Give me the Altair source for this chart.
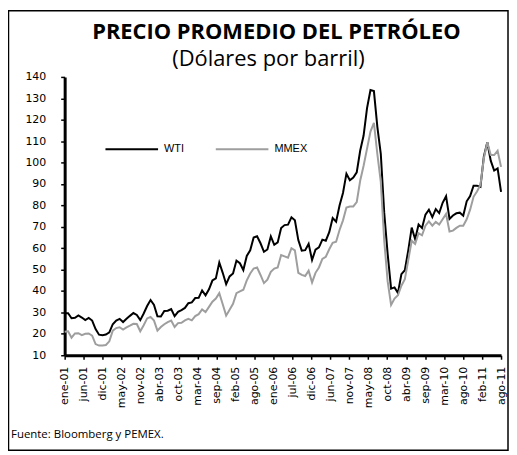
import altair as alt
import pandas as pd

# Monthly averages, USD per barrel (ene-2001 .. ago-2011)
wti_2001 = [29.6, 29.6, 27.3, 27.5, 28.6, 27.6, 26.4, 27.4, 26.2, 22.2, 19.6, 19.4]
wti_2002 = [19.7, 20.7, 24.5, 26.2, 27.0, 25.5, 27.0, 28.4, 29.7, 28.8, 26.4, 29.5]
wti_2003 = [33.0, 35.8, 33.5, 28.2, 28.1, 30.7, 30.8, 31.6, 28.3, 30.3, 31.1, 32.1]
wti_2004 = [34.3, 34.7, 36.7, 36.8, 40.3, 38.0, 40.8, 44.9, 45.9, 53.3, 48.5, 43.2]
wti_2005 = [46.8, 48.2, 54.2, 53.0, 49.8, 56.4, 59.0, 65.0, 65.6, 62.3, 58.3, 59.4]
wti_2006 = [65.5, 61.6, 62.7, 69.4, 70.8, 71.0, 74.4, 73.0, 63.8, 58.9, 59.1, 62.0]
wti_2007 = [54.5, 59.3, 60.4, 64.0, 63.5, 67.5, 74.1, 72.4, 79.9, 85.8, 94.8, 91.7]
wti_2008 = [93.0, 95.4, 105.5, 112.6, 125.4, 133.9, 133.4, 116.7, 104.1, 76.6, 57.3, 41.1]
wti_2009 = [41.7, 39.1, 47.9, 49.7, 59.0, 69.6, 64.2, 71.1, 69.4, 75.7, 78.0, 74.5]
wti_2010 = [78.3, 76.4, 81.2, 84.3, 73.7, 75.3, 76.3, 76.6, 75.2, 81.9, 84.3, 89.2]
wti_2011 = [89.2, 88.6, 102.9, 109.5, 100.9, 96.3, 97.3, 86.3]

mmex_2001 = [21.0, 21.2, 18.2, 20.2, 20.3, 19.4, 20.0, 20.2, 19.2, 15.2, 14.5, 14.6]
mmex_2002 = [14.8, 16.5, 21.5, 22.7, 23.1, 22.0, 23.0, 23.8, 24.7, 24.6, 21.2, 24.0]
mmex_2003 = [27.2, 27.9, 26.2, 21.5, 23.2, 24.5, 25.5, 26.2, 23.2, 25.0, 25.2, 26.3]
mmex_2004 = [27.0, 26.3, 28.3, 29.2, 31.4, 30.2, 32.6, 35.0, 36.5, 39.0, 33.8, 28.5]
mmex_2005 = [31.2, 34.0, 39.0, 39.8, 40.6, 45.0, 48.2, 50.5, 51.0, 47.5, 43.7, 45.3]
mmex_2006 = [49.0, 50.5, 51.0, 56.8, 56.2, 55.6, 60.0, 59.0, 48.5, 47.5, 47.0, 49.5]
mmex_2007 = [44.0, 48.5, 51.0, 55.0, 56.0, 59.5, 62.5, 63.0, 68.5, 73.0, 79.0, 79.5]
mmex_2008 = [79.5, 81.5, 91.5, 98.5, 106.5, 114.5, 118.5, 104.0, 91.0, 63.5, 44.5, 33.5]
mmex_2009 = [36.5, 38.0, 42.5, 45.5, 54.5, 63.5, 62.0, 67.0, 66.0, 70.5, 72.5, 70.5]
mmex_2010 = [72.3, 71.0, 73.5, 76.0, 67.8, 68.2, 69.5, 70.5, 70.5, 73.5, 78.0, 84.0]
mmex_2011 = [86.5, 89.5, 102.0, 109.5, 103.5, 103.5, 105.5, 98.0]

tick_labels = ["ene-01", "jun-01", "dic-01", "may-02", "nov-02", "abr-03", "oct-03",
               "mar-04", "sep-04", "feb-05", "ago-05", "ene-06", "jul-06", "dic-06",
               "jun-07", "nov-07", "may-08", "oct-08", "abr-09", "sep-09", "mar-10",
               "ago-10", "feb-11", "ago-11"]
y_ticks = [10, 20, 30, 40, 50, 60, 70, 80, 90, 100, 110, 120, 130, 140]
series_names = ["WTI", "MMEX"]
series_colors = ["#000000", "#9e9e9e"]

wti = (wti_2001 + wti_2002 + wti_2003 + wti_2004 + wti_2005 + wti_2006 +
       wti_2007 + wti_2008 + wti_2009 + wti_2010 + wti_2011)
mmex = (mmex_2001 + mmex_2002 + mmex_2003 + mmex_2004 + mmex_2005 + mmex_2006 +
        mmex_2007 + mmex_2008 + mmex_2009 + mmex_2010 + mmex_2011)
n = len(wti)

df = pd.DataFrame({
    "mes": list(range(n)) * 2,
    "serie": ["WTI"] * n + ["MMEX"] * n,
    "orden": [0] * n + [1] * n,
    "valor": wti + mmex,
})

W, H = 439, 280
k = len(tick_labels) - 1
tick_vals = [j * (n - 1) / k for j in range(k + 1)]
label_expr = "[" + ",".join(f"'{t}'" for t in tick_labels) + f"][round(datum.value*{k}/{n - 1})]"

lines = alt.Chart(df).mark_line(strokeWidth=2).encode(
    x=alt.X("mes:Q",
            scale=alt.Scale(domain=[0, n - 1], nice=False, zero=False),
            axis=alt.Axis(values=tick_vals, labelExpr=label_expr, labelAngle=-90,
                          title=None, grid=False, domainWidth=3, domainColor="black",
                          tickColor="black", tickSize=4, tickWidth=1.5,
                          labelFont="DejaVu Sans", labelFontSize=11, labelColor="black",
                          labelPadding=7, labelOverlap=False, labelFlush=False)),
    y=alt.Y("valor:Q",
            scale=alt.Scale(domain=[10, 140], nice=False, zero=False),
            axis=alt.Axis(values=y_ticks, title=None, grid=False, domainWidth=3,
                          domainColor="black", tickColor="black", tickSize=4,
                          tickWidth=1.5, labelFont="DejaVu Sans", labelFontSize=11,
                          labelColor="black", labelPadding=15)),
    color=alt.Color("serie:N",
                    scale=alt.Scale(domain=series_names, range=series_colors),
                    legend=alt.Legend(title=None, orient="none", legendX=40, legendY=45,
                                      direction="horizontal", symbolType="stroke",
                                      symbolSize=2800, symbolStrokeWidth=2,
                                      labelFont="Liberation Sans", labelFontSize=11,
                                      labelColor="black", labelOffset=5,
                                      columnPadding=27, padding=0)),
    order=alt.Order("orden:Q"),
)

title_df = pd.DataFrame({"t": ["PRECIO PROMEDIO DEL PETRÓLEO"]})
sub_df = pd.DataFrame({"t": ["(Dólares por barril)"]})
src_df = pd.DataFrame({"t": ["Fuente: Bloomberg  y PEMEX."]})
frame_df = pd.DataFrame({"a": [0]})

title = alt.Chart(title_df).mark_text(font="Open Sans", fontWeight="bold", fontSize=22,
                                      align="center", baseline="alphabetic", color="black").encode(
    x=alt.value(213), y=alt.value(-38), text="t:N")
subtitle = alt.Chart(sub_df).mark_text(font="Open Sans", fontSize=22, align="center",
                                       baseline="alphabetic", color="black").encode(
    x=alt.value(205), y=alt.value(-11), text="t:N")
source = alt.Chart(src_df).mark_text(font="Open Sans", fontSize=11.5, align="left",
                                     baseline="alphabetic", color="black").encode(
    x=alt.value(-54), y=alt.value(363), text="t:N")
frame = alt.Chart(frame_df).mark_rect(fillOpacity=0, stroke="black", strokeWidth=1.5).encode(
    x=alt.value(-56.5), x2=alt.value(446), y=alt.value(-66.5), y2=alt.value(375.5))

chart = alt.layer(frame, lines, title, subtitle, source).properties(
    width=W, height=H,
    autosize=alt.AutoSizeParams(type="none"),
    padding={"left": 57, "top": 68, "right": 8, "bottom": 96},
).configure_view(stroke=None)

chart.save("out.html", embed_options={"renderer": "svg", "actions": False})
